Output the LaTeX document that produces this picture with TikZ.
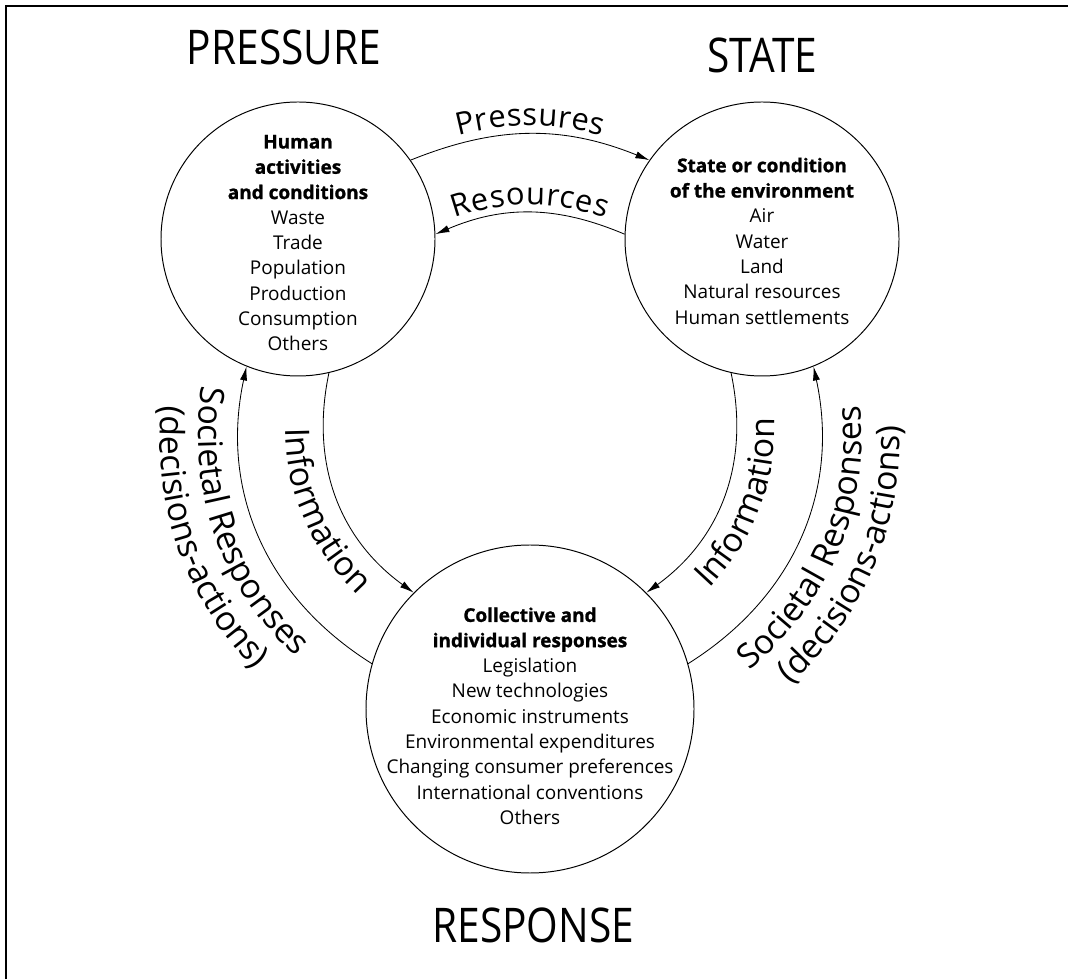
\documentclass[tikz,border=0pt]{standalone}
\usepackage{fontspec}
\setmainfont{Open Sans}[BoldFeatures={FakeBold=1.2}]
\newfontfamily\headfont[FakeStretch=0.85]{Open Sans}
\usetikzlibrary{arrows.meta,calc,decorations.text}

\newcommand\ringfont{\fontsize{13.5}{18}\selectfont}
\newcommand\arcfont{\fontsize{22}{26}\selectfont}
\newcommand\sidefont{\fontsize{24}{28}\selectfont}

\tikzset{
  ring/.style={circle, draw, line width=0.7pt, inner sep=0pt},
  ringtext/.style={align=center, font=\ringfont},
  heading/.style={font=\headfont\fontsize{34}{40}\selectfont},
  flow/.style={line width=0.6pt, -{Latex[length=3.5mm,width=1.8mm]}},
  flowback/.style={line width=0.6pt, {Latex[length=3.5mm,width=1.8mm]}-},
  arctext/.style 2 args={postaction={decorate, decoration={text along path,
      text align=center, raise=#2, text={|\arcfont|#1}}}},
  sidetext/.style={decorate, decoration={text along path,
      text align=center, text={|\sidefont|#1}}},
  upper/.style={decoration={text align={center, right indent=#1}}},
  lower/.style={decoration={text align={center, left indent=#1}}}
}

\begin{document}
\begin{tikzpicture}
\useasboundingbox (0,0) rectangle (26.7,24.475);
% frame, top and left edge only
\draw[line width=1.6pt] (0.155,0) -- (0.155,24.32) -- (26.7,24.32);

% headings
\node[heading] (pressure) at (7.1,23.3) {PRESSURE};
\node[heading] (state) at (19.06,23.1) {STATE};
\node[heading] (response) at (13.33,1.35) {RESPONSE};

% the three circles
\node[ring, minimum size=6.85cm] (human) at (7.45,18.5) {};
\node[ring, minimum size=6.85cm] (env) at (19.05,18.5) {};
\node[ring, minimum size=8.2cm] (resp) at (13.25,6.75) {};

\node[ringtext] (human-txt) at (7.45,18.4) {\textbf{Human}\\ \textbf{activities}\\
  \textbf{and conditions}\\ Waste\\ Trade\\ Population\\ Production\\ Consumption\\ Others};
\node[ringtext] (env-txt) at (19.05,18.45) {\textbf{State or condition}\\
  \textbf{of the environment}\\ Air\\ Water\\ Land\\ Natural resources\\ Human settlements};
\node[ringtext] (resp-txt) at (13.25,6.575) {\textbf{Collective and}\\
  \textbf{individual responses}\\ Legislation\\ New technologies\\ Economic instruments\\
  Environmental expenditures\\ Changing consumer preferences\\ International conventions\\ Others};

% top pair
\draw[flow, arctext={Pressures}{0.2cm}] (human.35) to[bend left=22] (env.145);
\draw[flowback, arctext={Resources}{0.2cm}] (human.2) to[bend left=23] (env.178);

% side arcs
\draw[flow] (human.-77) to[bend right=33] (resp.135);
\draw[flowback] (resp.45) to[bend right=33] (env.-103);
\draw[flowback] (human.-112) to[bend right=35] (resp.164);
\draw[flow] (resp.16) to[bend right=35] (env.-68);

% centres of the side arcs, so the labels run parallel to them
\coordinate (li-m) at ($(human.-77)!0.5!(resp.135)$);
\coordinate (li-c) at ($(li-m)!1.5399!90:(resp.135)$);
\coordinate (ri-m) at ($(resp.45)!0.5!(env.-103)$);
\coordinate (ri-c) at ($(ri-m)!1.5399!90:(env.-103)$);
\coordinate (lo-m) at ($(human.-112)!0.5!(resp.164)$);
\coordinate (lo-c) at ($(lo-m)!1.4281!90:(resp.164)$);
\coordinate (ro-m) at ($(resp.16)!0.5!(env.-68)$);
\coordinate (ro-c) at ($(ro-m)!1.4281!90:(env.-68)$);

% labels of the side arcs
\path[sidetext={Information}, lower=0.5cm]
  ($(li-c)!1.175!(human.-77)$) to[bend right=33] ($(li-c)!1.175!(resp.135)$);
\path[sidetext={Information}]
  ($(ri-c)!1.175!(resp.45)$) to[bend right=33] ($(ri-c)!1.175!(env.-103)$);
\path[sidetext={Societal Responses}, upper=1cm]
  ($(lo-c)!1.145!(human.-112)$) to[bend right=35] ($(lo-c)!1.145!(resp.164)$);
\path[sidetext={(decisions-actions)}, upper=1cm]
  ($(lo-c)!1.28!(human.-112)$) to[bend right=35] ($(lo-c)!1.28!(resp.164)$);
\path[sidetext={Societal Responses}]
  ($(ro-c)!1.145!(resp.16)$) to[bend right=35] ($(ro-c)!1.145!(env.-68)$);
\path[sidetext={(decisions-actions)}]
  ($(ro-c)!1.28!(resp.16)$) to[bend right=35] ($(ro-c)!1.28!(env.-68)$);
\end{tikzpicture}
\end{document}
